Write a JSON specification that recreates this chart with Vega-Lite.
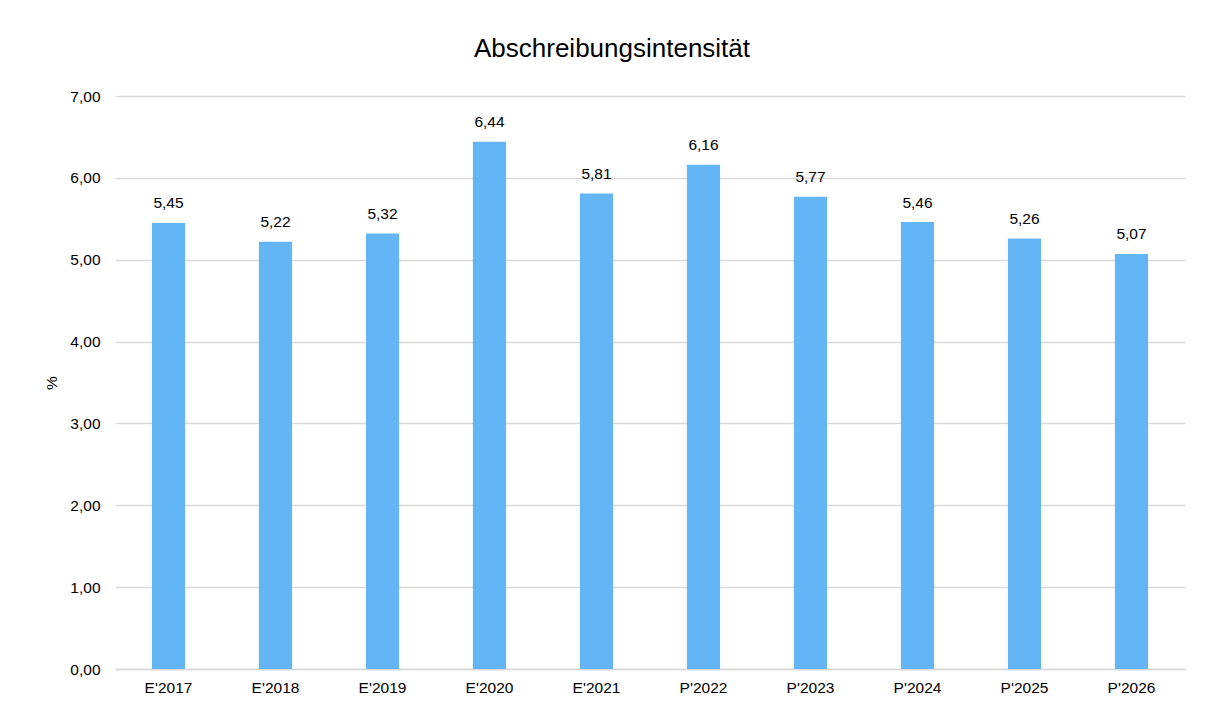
{
  "$schema": "https://vega.github.io/schema/vega-lite/v6.json",
  "autosize": "none",
  "width": 1070,
  "height": 573,
  "padding": {"left": 115, "top": 96, "right": 21, "bottom": 38},
  "background": "white",
  "config": {
    "locale": {"number": {"decimal": ",", "thousands": ".", "grouping": [3], "currency": ["", " €"]}},
    "font": "Liberation Sans",
    "view": {"stroke": null}
  },
  "title": {
    "text": "Abschreibungsintensität",
    "fontSize": 26,
    "fontWeight": "normal",
    "color": "#000000",
    "font": "Liberation Sans",
    "offset": 27,
    "dx": -38
  },
  "data": {
    "values": [
      {"jahr": "E'2017", "wert": 5.45},
      {"jahr": "E'2018", "wert": 5.22},
      {"jahr": "E'2019", "wert": 5.32},
      {"jahr": "E'2020", "wert": 6.44},
      {"jahr": "E'2021", "wert": 5.81},
      {"jahr": "P'2022", "wert": 6.16},
      {"jahr": "P'2023", "wert": 5.77},
      {"jahr": "P'2024", "wert": 5.46},
      {"jahr": "P'2025", "wert": 5.26},
      {"jahr": "P'2026", "wert": 5.07}
    ]
  },
  "encoding": {
    "x": {
      "field": "jahr",
      "type": "nominal",
      "sort": null,
      "scale": {"paddingInner": 0.69, "paddingOuter": 0.345},
      "axis": {
        "title": null,
        "labelAngle": 0,
        "labelFontSize": 15.5,
        "labelColor": "#000000",
        "labelPadding": 11,
        "ticks": false,
        "domainColor": "#d9d9d9",
        "domainWidth": 1.5
      }
    },
    "y": {
      "field": "wert",
      "type": "quantitative",
      "scale": {"domain": [0, 7], "nice": false},
      "axis": {
        "title": "%",
        "titleFontSize": 15.5,
        "titleFontWeight": "normal",
        "titleColor": "#000000",
        "titlePadding": 10,
        "values": [0, 1, 2, 3, 4, 5, 6, 7],
        "format": ".2f",
        "labelFontSize": 15.5,
        "labelColor": "#000000",
        "labelPadding": 15,
        "ticks": false,
        "domain": false,
        "gridColor": "#d9d9d9",
        "gridWidth": 1.5
      }
    }
  },
  "layer": [
    {"mark": {"type": "bar", "color": "#64B5F6"}},
    {
      "mark": {"type": "text", "dy": -14.5, "fontSize": 15.5, "color": "#000000", "baseline": "alphabetic"},
      "encoding": {"text": {"field": "wert", "type": "quantitative", "format": ".2f"}}
    }
  ]
}
